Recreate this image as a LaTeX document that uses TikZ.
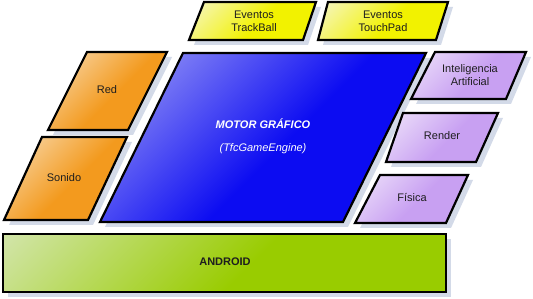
\documentclass[tikz,border=0pt]{standalone}
\usepackage{fontspec}
\setmainfont{Liberation Sans}
\usetikzlibrary{shadows}

\definecolor{sombra}{HTML}{D3DAE8}
\definecolor{naranjaclaro}{HTML}{F8DCB4}
\definecolor{naranja}{HTML}{F39A1E}
\definecolor{amarilloclaro}{HTML}{F6F6C4}
\definecolor{amarillo}{HTML}{F2F200}
\definecolor{azulclaro}{HTML}{A4A4F6}
\definecolor{azul}{HTML}{0C0CF2}
\definecolor{lilaclaro}{HTML}{EEE2FA}
\definecolor{lila}{HTML}{C8A0F2}
\definecolor{verdeclaro}{HTML}{D0E4A4}
\definecolor{verde}{HTML}{99CC00}
\definecolor{texto}{HTML}{1E1E1E}

% degradado claro arriba, oscuro abajo (colores fijados al usarlo)
\colorlet{claro}{white}
\colorlet{oscuro}{black}
\pgfdeclareverticalshading[claro,oscuro]{degradado}{100bp}{%
	color(0bp)=(oscuro); color(46bp)=(oscuro); color(84bp)=(claro); color(100bp)=(claro)}

\begin{document}
\begin{tikzpicture}[x=1pt,y=-1pt]

	\tikzset{capa/.style = {draw=black, line width=2.2pt, line join=miter,
		drop shadow={shadow xshift=5pt, shadow yshift=-5pt, fill=sombra, opacity=1}}}
	\tikzset{relleno/.style 2 args = {capa, /utils/exec={\colorlet{claro}{#1}\colorlet{oscuro}{#2}},
		shading=degradado, shading angle=45}}
	\tikzset{etiqueta/.style = {align=center, text=texto, font=\fontsize{11}{13}\selectfont}}

	\useasboundingbox (0,0) rectangle (533,299);

	% base
	\draw[relleno={verdeclaro}{verde}] (3,234) rectangle (446,292);

	% eventos de entrada
	\draw[relleno={amarilloclaro}{amarillo}] (204,2) -- (316,2) -- (303,40) -- (189,40) -- cycle;
	\draw[relleno={amarilloclaro}{amarillo}] (328,2) -- (448,2) -- (436,40) -- (318,40) -- cycle;

	% motor
	\draw[relleno={azulclaro}{azul}] (183,53) -- (426,53) -- (343,222) -- (100,222) -- cycle;

	% modulos izquierda
	\draw[relleno={naranjaclaro}{naranja}] (87,52) -- (167,52) -- (128,130) -- (48,130) -- cycle;
	\draw[relleno={naranjaclaro}{naranja}] (42,137) -- (127,137) -- (88,220) -- (4,220) -- cycle;

	% modulos derecha
	\draw[relleno={lilaclaro}{lila}] (435,52) -- (526,52) -- (506,99) -- (411,99) -- cycle;
	\draw[relleno={lilaclaro}{lila}] (403,113) -- (498,113) -- (476,162) -- (386,162) -- cycle;
	\draw[relleno={lilaclaro}{lila}] (380,175) -- (468,175) -- (446,223) -- (355,223) -- cycle;

	% textos
	\node[etiqueta] (trackball) at (254,21) {Eventos\\TrackBall};
	\node[etiqueta] (touchpad) at (383,21) {Eventos\\TouchPad};
	\node[etiqueta, text=white, font=\fontsize{11}{13}\selectfont\bfseries\itshape] (motor) at (263,124) {MOTOR GRÁFICO};
	\node[etiqueta, text=white, font=\fontsize{11}{13}\selectfont\itshape] (engine) at (263,149) {(TfcGameEngine)};
	\node[etiqueta] (red) at (107,90) {Red};
	\node[etiqueta] (sonido) at (64,178) {Sonido};
	\node[etiqueta] (ia) at (470,75) {Inteligencia\\Artificial};
	\node[etiqueta] (render) at (442,136) {Render};
	\node[etiqueta] (fisica) at (412,198) {Física};
	\node[etiqueta, font=\fontsize{11}{13}\selectfont\bfseries] (android) at (225,262) {ANDROID};

\end{tikzpicture}
\end{document}
